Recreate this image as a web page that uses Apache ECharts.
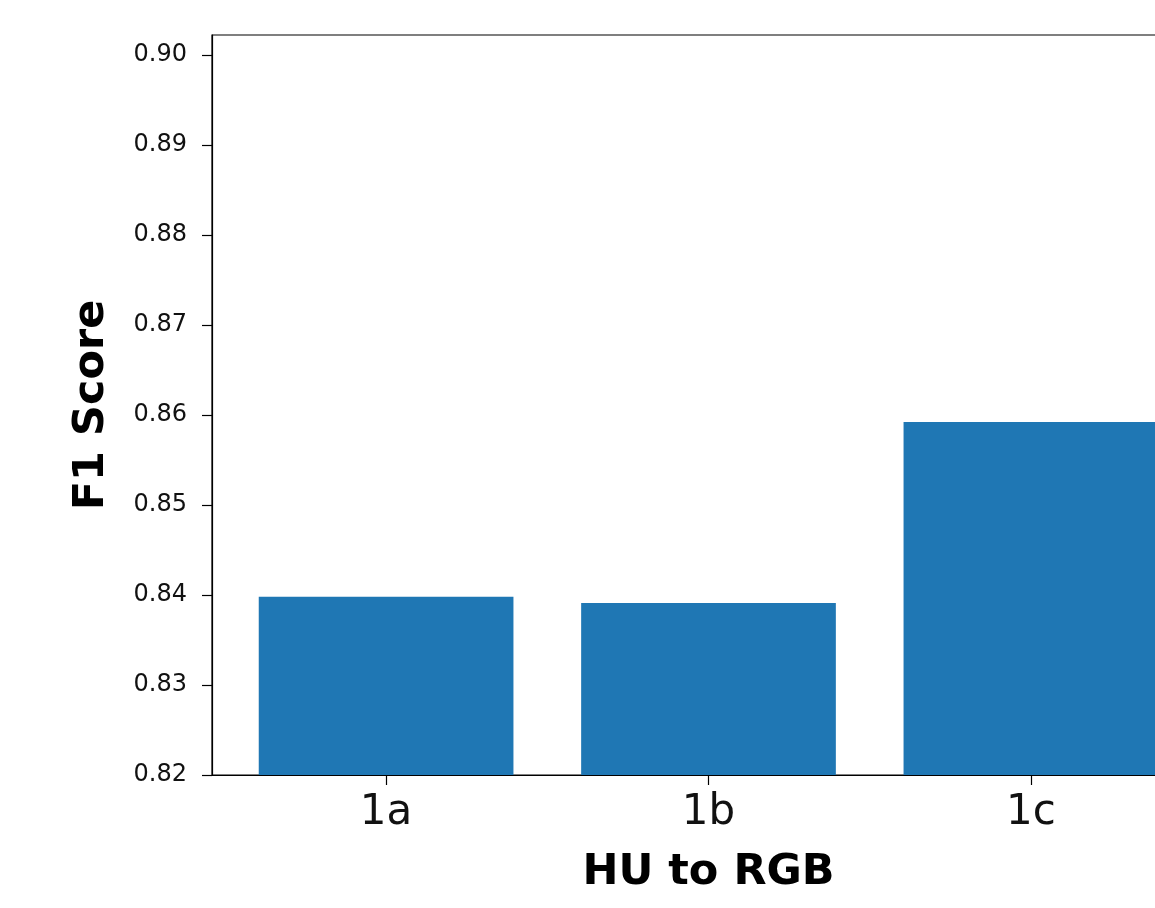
<!DOCTYPE html>
<html>
<head>
<meta charset="utf-8">
<script src="https://cdn.jsdelivr.net/npm/echarts@6/dist/echarts.min.js"></script>
<style>
html, body { margin: 0; padding: 0; overflow: hidden; background: #fff; width: 1155px; height: 908px; }
#chart { width: 1260px; height: 908px; }
</style>
</head>
<body>
<div id="chart"></div>
<script>
const categories = ['1a', '1b', '1c'];
const f1Scores = [0.8398, 0.8391, 0.8592];
const yTicks = [0.82, 0.83, 0.84, 0.85, 0.86, 0.87, 0.88, 0.89, 0.90];
const xTickPositions = [0, 1, 2];

const chart = echarts.init(document.getElementById('chart'), null, { renderer: 'canvas' });
const font = 'DejaVu Sans';
chart.setOption({
  animation: false,
  backgroundColor: '#ffffff',
  grid: {
    left: 212, right: 55, top: 35, bottom: 133,
    show: true, borderColor: '#000', borderWidth: 1.2, backgroundColor: 'transparent'
  },
  xAxis: {
    type: 'value',
    min: -0.54, max: 2.54,
    name: 'HU to RGB',
    nameLocation: 'middle',
    nameGap: 76,
    nameTextStyle: { fontFamily: font, fontSize: 43, fontWeight: 'bold', color: '#000' },
    axisLine: { show: true, onZero: false, lineStyle: { color: '#000', width: 1.2 } },
    axisTick: { show: true, inside: false, customValues: xTickPositions, length: 10, lineStyle: { color: '#000', width: 1.2 } },
    axisLabel: {
      customValues: xTickPositions,
      formatter: v => categories[Math.round(v)] ?? '',
      fontFamily: font, fontSize: 42, color: '#111', margin: 17
    },
    splitLine: { show: false }
  },
  yAxis: {
    type: 'value',
    min: 0.82, max: 0.9022,
    name: 'F1 Score',
    nameLocation: 'middle',
    nameGap: 99,
    nameTextStyle: { fontFamily: font, fontSize: 43, fontWeight: 'bold', color: '#000' },
    axisLine: { show: true, onZero: false, lineStyle: { color: '#000', width: 1.2 } },
    axisTick: { show: true, inside: false, customValues: yTicks, length: 10, lineStyle: { color: '#000', width: 1.2 } },
    axisLabel: {
      customValues: yTicks,
      formatter: v => v.toFixed(2),
      fontFamily: font, fontSize: 24, color: '#111', margin: 25
    },
    splitLine: { show: false }
  },
  series: [{
    type: 'bar',
    data: categories.map((c, i) => [xTickPositions[i], f1Scores[i]]),
    barWidth: '79%',
    itemStyle: { color: '#1f77b4' },
    clip: true
  }]
});
</script>
</body>
</html>
